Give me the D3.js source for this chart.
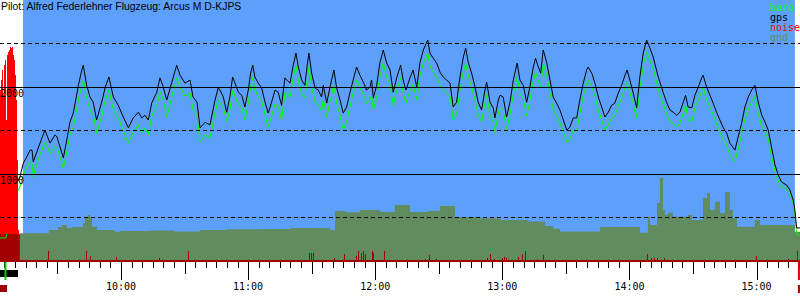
<!DOCTYPE html>
<html>
<head>
<meta charset="utf-8">
<script src="https://cdn.jsdelivr.net/npm/d3@7"></script>
<style>
body { margin: 0; background: #fff; }
svg { display: block; }
</style>
</head>
<body>
<svg id="chart" width="800" height="300"></svg>
<script>
// barogram of one flight, times in minutes after 09:00, altitudes in m

var pilot = "Pilot: Alfred Federlehner Flugzeug: Arcus M D-KJPS";

var times = [2.9,5.7,9.0,12.3,13.9,15.5,17.1,18.0,18.6,19.4,
  21.8,24.1,26.5,28.9,29.8,32.8,34.4,35.9,37.5,39.9,
  41.5,42.2,43.8,45.4,46.9,48.5,50.9,52.5,54.3,56.4,
  58.7,61.1,63.5,65.8,68.2,69.8,71.3,72.9,74.5,76.9,
  78.4,79.7,81.6,86.3,87.9,90.2,92.6,94.0,95.9,97.3,
  99.7,102.0,104.4,105.9,106.7,108.3,109.9,111.4,112.7,113.8,
  115.4,117.0,118.5,120.1,121.2,122.2,123.2,124.8,126.4,128.0,
  129.5,131.1,132.7,134.2,135.8,137.4,138.2,139.8,141.3,142.6,
  143.7,145.3,146.8,147.9,148.7,150.0,151.6,153.1,154.7,155.5,
  157.1,158.6,160.5,161.8,163.4,164.9,166.5,168.1,169.6,171.2,
  172.8,174.4,175.9,177.5,178.3,179.1,180.7,182.2,183.8,185.4,
  187.0,188.5,190.1,192.0,193.2,194.5,196.4,197.9,199.6,201.1,
  202.7,204.8,205.8,207.4,209.0,210.6,212.1,213.7,215.3,216.8,
  218.4,220.0,221.6,222.7,223.9,225.5,227.1,228.6,230.2,231.8,
  232.6,234.2,235.7,236.5,238.1,238.9,240.4,242.0,243.6,245.2,
  247.0,248.3,249.9,251.5,253.0,254.6,255.7,257.0,258.1,259.3,
  260.9,262.5,264.0,265.6,267.2,268.8,270.4,271.9,273.5,275.1,
  276.6,278.2,279.8,280.5,282.2,283.7,285.3,286.9,288.4,290.0,
  291.6,293.1,294.7,296.3,297.9,298.9,300.2,301.8,303.4,304.9,
  306.5,308.1,309.7,311.2,313.6,315.9,317.5,319.1,320.7,322.3,
  323.8,325.4,326.5,327.7,329.4,330.9,332.5,334.1,334.8,336.4,
  338.0,339.5,341.1,342.7,344.3,345.9,347.4,349.8,351.3,352.9,
  354.5,356.1,357.7,359.2,360.8,362.4,363.9,365.5,367.1,368.7,
  370.2,371.8,374.2,375.7,377.3,378.1,378.9,380.5];

var gps = [390,390,815,965,1125,1195,1275,1275,1140,1195,
  1355,1505,1355,1450,1425,1185,1390,1595,1700,2020,
  2195,2250,2020,1885,1825,1620,1825,1990,2115,1885,
  1790,1655,1530,1645,1710,1645,1675,1620,1815,1940,
  2105,2020,1850,2250,2135,2045,2080,1885,1825,1530,
  1595,1565,1850,1990,1965,1885,1710,1885,2115,2045,
  1940,1905,1770,1965,2160,2250,2115,2045,1990,1825,
  1700,1825,1965,1940,1790,2105,2080,2045,2250,2390,
  2230,2080,2020,2250,2390,2160,1990,1965,1885,2020,
  1815,1990,2195,1990,1850,1700,1770,1940,2080,2230,
  2135,2055,1965,2000,2080,1875,2020,2275,2425,2275,
  2195,1940,2105,2250,2080,1965,2105,2195,2000,2275,
  2425,2540,2390,2330,2275,2170,2115,2080,2045,1770,
  1825,2115,2345,2445,2285,2160,2000,1825,1735,1965,
  2055,1825,1760,1645,1850,1905,1885,1655,1825,2080,
  2275,2080,2020,1825,2000,2230,2330,2230,2160,2425,
  2285,2080,1885,1815,1735,1620,1505,1540,1645,1645,
  1850,2045,2195,2230,2160,2045,1885,1770,1655,1710,
  1790,1815,1930,2020,2135,2195,2080,1930,1760,2115,
  2390,2540,2445,2345,2115,1940,1825,1735,1710,1675,
  1710,1825,1905,1770,1760,1905,2000,2105,2135,2000,
  1905,1815,1710,1620,1530,1470,1355,1275,1425,1580,
  1770,1885,1965,2020,1825,1680,1600,1505,1300,1105,
  990,908,873,816,700,586,380,380];

var baro = [265,265,700,850,990,1070,1140,1125,965,1045,
  1220,1365,1240,1320,1300,1070,1250,1450,1540,1850,
  2020,2080,1875,1735,1680,1470,1665,1840,1965,1735,
  1645,1495,1355,1480,1565,1470,1530,1450,1665,1790,
  1940,1875,1655,2105,1990,1895,1930,1735,1680,1365,
  1450,1415,1700,1850,1815,1760,1600,1735,1965,1895,
  1805,1760,1620,1815,2010,2115,1965,1895,1840,1680,
  1540,1665,1805,1780,1620,1940,1920,1885,2105,2250,
  2080,1920,1875,2080,2230,2000,1825,1805,1725,1860,
  1655,1825,2020,1815,1680,1505,1595,1780,1930,2080,
  1990,1910,1815,1850,1910,1735,1875,2115,2275,2115,
  2035,1790,1955,2105,1930,1815,1955,2035,1850,2125,
  2275,2390,2240,2170,2115,2020,1965,1930,1895,1620,
  1680,1965,2170,2275,2125,2000,1850,1680,1600,1815,
  1910,1665,1600,1480,1700,1760,1735,1505,1680,1920,
  2115,1920,1860,1665,1840,2070,2170,2070,1990,2275,
  2135,1930,1735,1665,1585,1480,1365,1400,1505,1495,
  1700,1895,2045,2080,2010,1895,1735,1620,1505,1565,
  1645,1665,1780,1875,2000,2055,1940,1805,1645,1975,
  2250,2400,2310,2205,1975,1805,1690,1600,1575,1540,
  1575,1700,1790,1620,1600,1760,1850,1955,1990,1850,
  1770,1680,1575,1480,1390,1335,1220,1140,1290,1450,
  1630,1745,1830,1885,1690,1550,1485,1405,1205,1025,
  920,850,827,780,666,540,310,290];

// terrain under the track
var gndTimes = [12.3,26.0,30.3,32.2,34.5,36.9,42.1,43.0,44.4,45.4,46.3,48.7,57.2,59.5,
  73.7,85.0,97.3,110.0,125.6,140.0,158.6,161.0,166.0,172.8,182.2,189.3,196.4,205.0,
  210.6,217.6,228.0,238.9,252.0,260.1,264.0,267.2,286.1,304.9,308.7,309.7,313.0,
  314.4,315.8,316.7,318.2,320.5,327.6,329.5,334.7,336.6,338.0,340.4,342.7,345.1,
  347.4,348.8,350.7,359.2,361.6,378.1,380.5];
var gnd = [318,356,391,414,379,391,437,509,529,506,394,356,337,345,
  350,340,356,365,368,380,356,575,560,586,563,643,563,575,
  632,505,490,471,455,402,370,340,391,325,509,414,666,
  954,586,529,555,509,529,471,724,781,586,681,552,793,
  586,494,394,471,414,337,337];

// engine noise level
var noiseTimes = [25.6,43.5,45.4,58.1,78.4,92.1,149.2,150.1,151.1,161.0,165.7,171.4,172.3,173.7,
  174.7,175.6,178.9,179.4,184.6,203.5,205.4,209.1,233.2,234.6,236.5,240.3,241.2,242.2,
  247.8,249.3,250.7,251.1,256.8,259.6,308.7,310.6,311.6,313.4,316.7,338.5,341.3,360.2,375.3,379.5];
var noise = [100,100,50,40,30,100,80,80,80,30,70,50,100,80,
  100,70,100,80,100,20,60,20,30,70,20,30,40,30,
  40,70,100,80,20,60,70,30,30,30,30,10,10,50,20,100];

// histogram columns at the left edge
var histo = [144,154,164,139,169,174,114,179,182,184,187,186,187,179,174,159,134,74,4];

var flightStart = 13.75, flightEnd = 378.1;
var groundEnd = 12.3, groundAlt = 310;
var altLines = [500, 1000, 1500, 2000, 2500];
var altLabels = [1000, 2000];
var legendNames = ["baro", "gps", "noise", "gnd"];

var colBlue = "#5ca0fc", colGnd = "#608c60", colDark = "#a00000";
var legendColors = ["#00ff00", "#000000", "#ff0000", colGnd];

var base = new Date(2020, 5, 1, 9, 0, 0);
function tm(m) { return new Date(base.getTime() + m * 60000); }

var svg = d3.select("#chart");
var W = 800;

var x = d3.scaleTime().domain([tm(2.9), tm(380.5)]).range([0, W]);
var y = d3.scaleLinear().domain([0, 3000]).range([261, 0]);
var yNoise = d3.scaleLinear().domain([0, 1000]).range([261, 161]);
var hx = d3.scaleBand().domain(d3.range(histo.length)).range([0, histo.length]);
var hy = d3.scaleLinear().domain([0, 200]).range([234, 34]);

svg.append("rect").attr("width", W).attr("height", 300).attr("fill", "#fff");

// flight period background
svg.append("rect")
  .attr("x", x(tm(flightStart))).attr("y", 0)
  .attr("width", x(tm(flightEnd)) - x(tm(flightStart)))
  .attr("height", y(0) - 1)
  .attr("fill", colBlue);

// ground
var gndData = gndTimes.map(function(t, i) { return {t: t, v: gnd[i]}; });
svg.append("path")
  .datum(gndData)
  .attr("fill", colGnd)
  .attr("d", d3.area().curve(d3.curveStepAfter)
    .x(function(d) { return x(tm(d.t)); })
    .y0(y(0)).y1(function(d) { return y(d.v); }));

svg.append("rect")
  .attr("x", 0).attr("y", y(groundAlt))
  .attr("width", x(tm(groundEnd)))
  .attr("height", y(0) - y(groundAlt))
  .attr("fill", colDark);

// noise bars
svg.selectAll(".noise")
  .data(noiseTimes)
  .enter().append("rect")
  .attr("x", function(d) { return Math.floor(x(tm(d))); })
  .attr("y", function(d, i) { return yNoise(noise[i]); })
  .attr("width", 1)
  .attr("height", function(d, i) { return yNoise(0) - yNoise(noise[i]); })
  .attr("fill", colDark);

// traces
var line = d3.line()
  .x(function(d) { return x(tm(d.t)); })
  .y(function(d) { return y(d.v); });

svg.append("path")
  .datum(times.map(function(t, i) { return {t: t, v: baro[i]}; }))
  .attr("fill", "none").attr("stroke", "#00ff00").attr("stroke-width", 1)
  .attr("d", line);

svg.append("path")
  .datum(times.map(function(t, i) { return {t: t, v: gps[i]}; }))
  .attr("fill", "none").attr("stroke", "#000").attr("stroke-width", 1)
  .attr("d", line);

// left histogram
svg.selectAll(".histo")
  .data(histo)
  .enter().append("rect")
  .attr("x", function(d, i) { return hx(i); })
  .attr("y", function(d) { return hy(d); })
  .attr("width", hx.bandwidth())
  .attr("height", function(d) { return hy(0) - hy(d); })
  .attr("fill", "#ff0000");

// altitude grid
svg.selectAll(".grid")
  .data(altLines)
  .enter().append("line")
  .attr("x1", 0).attr("x2", W)
  .attr("y1", function(d) { return Math.floor(y(d)) + 0.5; })
  .attr("y2", function(d) { return Math.floor(y(d)) + 0.5; })
  .attr("stroke", "#000")
  .attr("stroke-width", 1)
  .attr("stroke-dasharray", function(d) { return d % 1000 ? "4,3" : null; });

svg.selectAll(".altlab")
  .data(altLabels)
  .enter().append("text")
  .attr("x", 0)
  .attr("y", function(d) { return y(d) + 10; })
  .attr("font-family", "DejaVu Sans Mono")
  .attr("font-size", "10px")
  .attr("fill", "#000")
  .text(function(d) { return d; });

// time axis
svg.append("rect")
  .attr("x", 0).attr("y", 260).attr("width", W).attr("height", 2)
  .attr("fill", colDark);

var ticks = x.ticks(d3.timeMinute.every(5));
svg.selectAll(".tick")
  .data(ticks)
  .enter().append("line")
  .attr("x1", function(d) { return Math.round(x(d)) + 0.5; })
  .attr("x2", function(d) { return Math.round(x(d)) + 0.5; })
  .attr("y1", 262)
  .attr("y2", function(d) {
    var m = d.getMinutes();
    return 262 + (m === 0 ? 18 : (m === 30 ? 12 : 6));
  })
  .attr("stroke", "#000");

svg.selectAll(".tlab")
  .data(ticks.filter(function(d) { return d.getMinutes() === 0; }))
  .enter().append("text")
  .attr("x", function(d) { return x(d); })
  .attr("y", 290)
  .attr("text-anchor", "middle")
  .attr("font-family", "DejaVu Sans Mono")
  .attr("font-size", "10px")
  .text(d3.timeFormat("%H:%M"));

// markers below the axis
svg.append("rect").attr("x", 0).attr("y", 270).attr("width", x(tm(11.4))).attr("height", 7).attr("fill", "#000");
svg.append("rect").attr("x", x(tm(5.0))).attr("y", 262).attr("width", 2).attr("height", 18).attr("fill", "#00cc00");
svg.append("rect").attr("x", 0).attr("y", 285).attr("width", 7).attr("height", 7).attr("fill", colDark);
svg.append("rect").attr("x", x(tm(flightEnd)) + 3).attr("y", 262).attr("width", 2).attr("height", 18).attr("fill", "#e00000");
svg.append("rect").attr("x", x(tm(flightEnd)) + 3).attr("y", 285).attr("width", 2).attr("height", 8).attr("fill", colDark);

// legend
svg.selectAll(".leg")
  .data(legendNames)
  .enter().append("text")
  .attr("x", 770)
  .attr("y", function(d, i) { return 11 + i * 10; })
  .attr("font-family", "DejaVu Sans Mono")
  .attr("font-size", "10px")
  .attr("fill", function(d, i) { return legendColors[i]; })
  .text(function(d) { return d; });

// title
svg.append("text")
  .attr("x", 1).attr("y", 10)
  .attr("font-family", "Liberation Sans, Arial, sans-serif")
  .attr("font-size", "10.4px")
  .attr("fill", "#000")
  .text(pilot);
</script>
</body>
</html>
